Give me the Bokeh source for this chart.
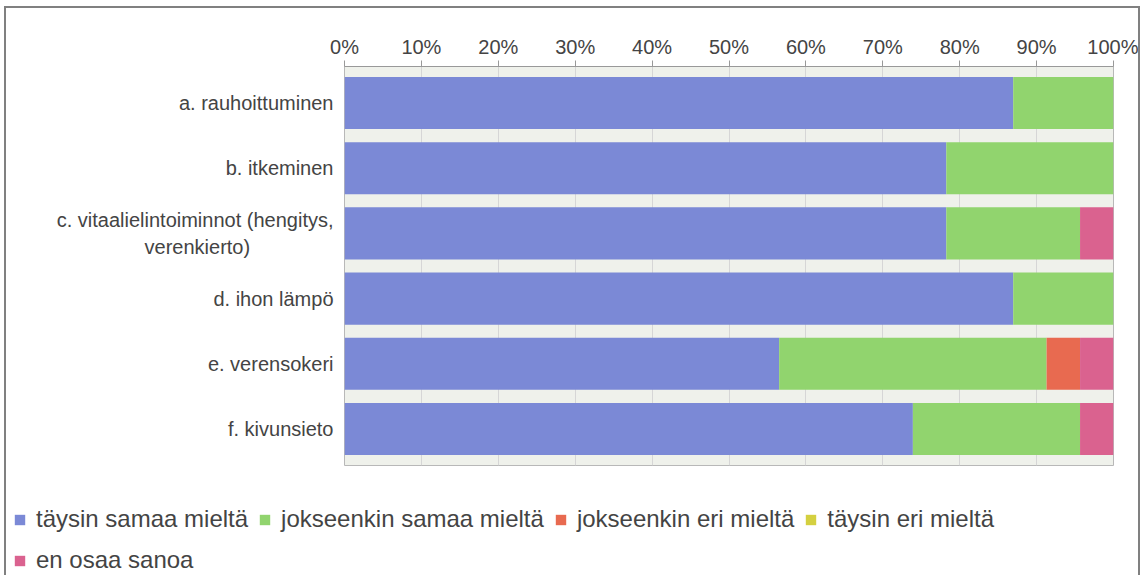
from bokeh.plotting import figure
from bokeh.models import (ColumnDataSource, FactorRange, FixedTicker, PrintfTickFormatter,
                          Legend, LegendItem)
from bokeh.layouts import column
from bokeh.embed import file_html
from bokeh.resources import INLINE

NBSP = "\u00a0"
categories = [
    "a. rauhoittuminen",
    "b. itkeminen",
    "c. vitaalielintoiminnot (hengitys,\nverenkierto)" + NBSP * 15,
    "d. ihon lämpö",
    "e. verensokeri",
    "f. kivunsieto",
]
series_names = ["täysin samaa mieltä", "jokseenkin samaa mieltä", "jokseenkin eri mieltä",
                "täysin eri mieltä", "en osaa sanoa"]
taysin_samaa = [86.96, 78.26, 78.26, 86.96, 56.52, 73.91]
jokseenkin_samaa = [13.04, 21.74, 17.39, 13.04, 34.78, 21.74]
jokseenkin_eri = [0, 0, 0, 0, 4.35, 0]
taysin_eri = [0, 0, 0, 0, 0, 0]
en_osaa = [0, 0, 4.35, 0, 4.35, 4.35]
tick_values = [0, 10, 20, 30, 40, 50, 60, 70, 80, 90, 100]

colors = ["#7b89d6", "#91d46e", "#e86a50", "#d4d040", "#da628f"]
keys = ["s0", "s1", "s2", "s3", "s4"]

source = ColumnDataSource(dict(cat=categories, s0=taysin_samaa, s1=jokseenkin_samaa,
                               s2=jokseenkin_eri, s3=taysin_eri, s4=en_osaa))

FONT = "Liberation Sans"

p = figure(width=1132, height=477, output_backend="svg", toolbar_location=None,
           x_range=(0, 100), y_range=FactorRange(factors=categories[::-1], range_padding=0.02),
           x_axis_location="above", min_border_left=338, min_border_right=25,
           min_border_top=58, min_border_bottom=20)

renderers = p.hbar_stack(keys, y="cat", height=0.8, source=source, color=colors,
                         line_color=None)

p.background_fill_color = "#eff1eb"
p.border_fill_color = "white"
p.outline_line_color = "#b8b8b8"

p.ygrid.grid_line_color = None
p.xgrid.grid_line_color = "#d6d6d6"
p.xgrid.ticker = FixedTicker(ticks=tick_values)

xa = p.xaxis[0]
xa.ticker = FixedTicker(ticks=tick_values)
xa.formatter = PrintfTickFormatter(format="%d%%")
xa.axis_line_color = "#999999"
xa.major_tick_line_color = "#999999"
xa.major_tick_out = 6
xa.major_tick_in = 0
xa.minor_tick_line_color = None
xa.major_label_text_font = FONT
xa.major_label_text_font_size = "20px"
xa.major_label_text_color = "#444444"
xa.major_label_standoff = 3

ya = p.yaxis[0]
ya.axis_line_color = None
ya.major_tick_line_color = None
ya.minor_tick_line_color = None
ya.major_tick_out = 0
ya.major_label_text_font = FONT
ya.major_label_text_font_size = "20px"
ya.major_label_text_color = "#444444"
ya.major_label_standoff = 11

# Legend panel (separate small figure so the legend can span the full width)
pl = figure(width=1132, height=90, output_backend="svg", toolbar_location=None,
            x_range=(0, 1), y_range=(0, 1), min_border=0)
try:
    pl.frame_align = False
except Exception:
    pass
pl.axis.visible = False
pl.grid.visible = False
pl.outline_line_color = None
pl.background_fill_color = "white"

# legend swatches only (kept outside the visible range)
leg_renderers = []
for c in colors:
    r = pl.hbar(y=[-10], left=[0], right=[0], height=0.5, color=c, line_color=None)
    leg_renderers.append(r)

def make_legend(idx, loc):
    items = [LegendItem(label=series_names[i], renderers=[leg_renderers[i]]) for i in idx]
    return Legend(items=items, orientation="horizontal", location=loc,
                  border_line_color=None, background_fill_alpha=0,
                  label_text_font=FONT, label_text_font_size="24px",
                  label_text_color="#444444", glyph_width=13, glyph_height=13,
                  label_standoff=10, spacing=10, padding=0, margin=0)

pl.add_layout(make_legend([0, 1, 2, 3], (7, 42)), "center")
pl.add_layout(make_legend([4], (7, 1)), "center")

layout = column(p, pl, spacing=0,
                styles={"border-left": "2px solid #808080",
                        "border-top": "2px solid #808080",
                        "border-right": "2px solid #808080",
                        "margin-left": "4px", "margin-top": "6px"})

open("out.html", "w").write(file_html(layout, INLINE))
